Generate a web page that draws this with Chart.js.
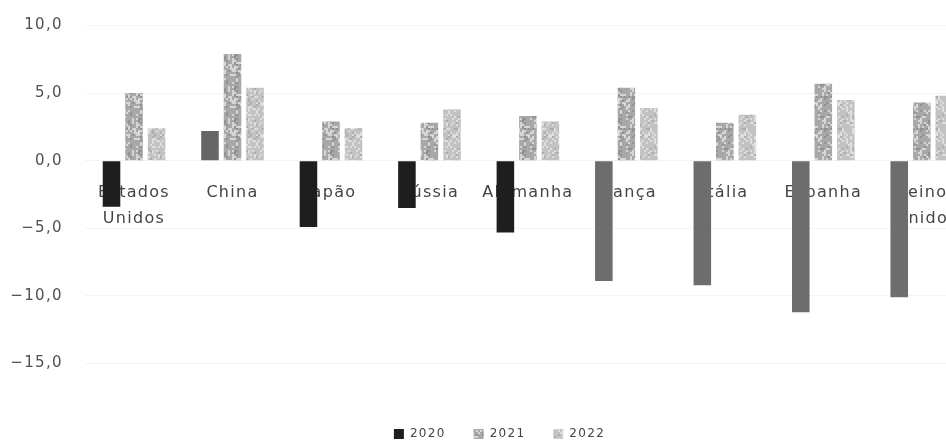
<!DOCTYPE html>
<html lang="pt">
<head>
<meta charset="utf-8">
<title>Crescimento do PIB 2020–2022</title>
<script src="https://cdn.jsdelivr.net/npm/chart.js@4/dist/chart.umd.min.js"></script>
<style>
  html, body { margin: 0; padding: 0; background: #ffffff; overflow: hidden; }
  #wrap { position: relative; width: 971px; height: 450px; }
</style>
</head>
<body>
<div id="wrap"><canvas id="chart" width="971" height="450"></canvas></div>
<script>
// Variação real do PIB (%) por país
const categories = [['Estados', 'Unidos'], 'China', 'Japão', 'Rússia', 'Alemanha', 'França', 'Itália', 'Espanha', ['Reino', 'Unido']];
const years = ['2020', '2021', '2022'];
const growth2020 = [-3.4, 2.2, -4.9, -3.5, -5.3, -8.9, -9.2, -11.2, -10.1];
const growth2021 = [5.0, 7.9, 2.9, 2.8, 3.3, 5.4, 2.8, 5.7, 4.3];
const growth2022 = [2.4, 5.4, 2.4, 3.8, 2.9, 3.9, 3.4, 4.5, 4.8];
const yTickValues = [-15, -10, -5, 0, 5, 10];

// Grainy fill used for the 2021 and 2022 bars (fixed hash, no randomness)
function grain(base, light, dark, pLight, pDark, seed) {
  const size = 32, cell = 2;
  const c = document.createElement('canvas');
  c.width = size; c.height = size;
  const g = c.getContext('2d');
  g.fillStyle = base;
  g.fillRect(0, 0, size, size);
  for (let y = 0; y < size; y += cell) {
    for (let x = 0; x < size; x += cell) {
      const s = Math.sin(x * 12.9898 + y * 78.233 + seed * 37.719) * 43758.5453;
      const h = s - Math.floor(s);
      if (h < pLight) { g.fillStyle = light; g.fillRect(x, y, cell, cell); }
      else if (h > 1 - pDark) { g.fillStyle = dark; g.fillRect(x, y, cell, cell); }
    }
  }
  return g.createPattern(c, 'repeat');
}

const fill2021 = grain('#a8a8a8', '#d6d6d6', '#929292', 0.26, 0.14, 1);
const fill2022 = grain('#c2c2c2', '#dddddd', '#acacac', 0.30, 0.12, 2);
// 2020: dark bars, lighter grey for China and the European group
const colors2020 = growth2020.map((v, i) => (i === 1 ? '#666666' : i >= 5 ? '#6d6d6d' : '#1e1e1e'));

function fmt(v) {
  const s = Math.abs(v).toFixed(1).replace('.', ',');
  return v < 0 ? '\u2212' + s : s;
}

const typography = {
  id: 'typography',
  beforeLayout(chart) { chart.ctx.letterSpacing = '1.3px'; },
  beforeDraw(chart) { chart.ctx.letterSpacing = '1.3px'; },
  // centre the legend row under the labelled area rather than the canvas
  afterLayout(chart) {
    if (chart.legend) { chart.legend.left += 14; chart.legend.right += 14; }
  }
};

new Chart(document.getElementById('chart'), {
  type: 'bar',
  data: {
    labels: categories,
    datasets: [
      { label: years[0], data: growth2020, backgroundColor: colors2020 },
      { label: years[1], data: growth2021, backgroundColor: fill2021 },
      { label: years[2], data: growth2022, backgroundColor: fill2022 }
    ]
  },
  options: {
    responsive: false,
    animation: false,
    devicePixelRatio: 1,
    categoryPercentage: 0.686,
    barPercentage: 0.78,
    borderWidth: 0,
    layout: { padding: { left: 0, top: 25.5, right: 0, bottom: 0 } },
    plugins: {
      tooltip: { enabled: false },
      legend: {
        position: 'bottom',
        title: { display: true, text: '', padding: { top: 22, bottom: 0 } },
        labels: {
          boxWidth: 10, boxHeight: 10, padding: 28,
          color: '#444444',
          font: { family: 'DejaVu Sans', size: 12 }
        }
      }
    },
    scales: {
      x: {
        type: 'category',
        position: { y: 0 },
        grid: { display: false },
        border: { display: false },
        ticks: {
          autoSkip: false, maxRotation: 0, minRotation: 0,
          padding: 11,
          color: '#444444',
          font: { family: 'DejaVu Sans', size: 16, lineHeight: 1.62 }
        }
      },
      y: {
        min: -15, max: 10,
        afterFit(scale) {
          scale.width = 84.8;
          scale.paddingTop = 0;
          scale.paddingBottom = 0;
        },
        afterBuildTicks(scale) { scale.ticks = yTickValues.map(v => ({ value: v })); },
        grid: { color: '#f4f4f4', drawTicks: false },
        border: { display: false },
        ticks: {
          padding: 22,
          color: '#505050',
          font: { family: 'DejaVu Sans', size: 15 },
          callback: (v) => fmt(v)
        }
      }
    }
  },
  plugins: [typography]
});
</script>
</body>
</html>
